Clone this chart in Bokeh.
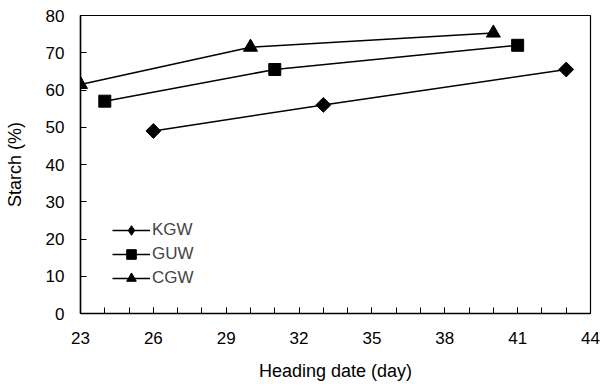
import math
from bokeh.plotting import figure
from bokeh.models import FixedTicker, Legend, LegendItem, Range1d
from bokeh.embed import file_html
from bokeh.resources import INLINE

kgw_x = [26, 33, 43]
kgw_y = [49, 56, 65.5]
guw_x = [24, 31, 41]
guw_y = [57, 65.5, 72]
cgw_x = [23, 30, 40]
cgw_y = [61.5, 71.5, 75.3]

x_ticks = [23, 26, 29, 32, 35, 38, 41, 44]
y_ticks = [0, 10, 20, 30, 40, 50, 60, 70, 80]

FONT = "Liberation Sans"

p = figure(width=604, height=386, output_backend="svg", toolbar_location=None,
           x_range=Range1d(23, 44), y_range=Range1d(0, 80),
           min_border_left=80, min_border_right=14, min_border_top=15, min_border_bottom=73)
p.background_fill_color = "white"
p.border_fill_color = "white"
p.outline_line_color = "black"
p.outline_line_width = 1.2
p.xgrid.visible = False
p.ygrid.visible = False

r1l = p.line(kgw_x, kgw_y, line_color="black", line_width=1.5)
r1d = p.scatter(kgw_x, kgw_y, marker="diamond", size=12, color="black")
r1m = p.scatter(kgw_x, kgw_y, marker="square", size=10.5, angle=math.pi / 4, color="black")
r2l = p.line(guw_x, guw_y, line_color="black", line_width=1.5)
r2m = p.scatter(guw_x, guw_y, marker="square", size=12, color="black")
r3l = p.line(cgw_x, cgw_y, line_color="black", line_width=1.5)
r3m = p.scatter(cgw_x, cgw_y, marker="triangle", size=14, color="black")

xa = p.xaxis[0]
xa.ticker = FixedTicker(ticks=x_ticks, minor_ticks=list(range(23, 45)))
xa.axis_label = "Heading date (day)"
xa.major_tick_in = 6
xa.major_tick_out = 0
xa.minor_tick_in = 6
xa.minor_tick_out = 0
xa.minor_tick_line_color = "black"
xa.major_label_standoff = 18
xa.axis_label_standoff = 14

ya = p.yaxis[0]
ya.ticker = FixedTicker(ticks=y_ticks)
ya.axis_label = "Starch (%)"
ya.major_tick_in = 6
ya.major_tick_out = 0
ya.minor_tick_line_color = None
ya.major_label_standoff = 16
ya.axis_label_standoff = 18

for ax in (xa, ya):
    ax.axis_line_color = "black"
    ax.axis_line_width = 1.5
    ax.major_tick_line_color = "black"
    ax.major_label_text_font = FONT
    ax.major_label_text_font_size = "17px"
    ax.major_label_text_color = "black"
    ax.axis_label_text_font = FONT
    ax.axis_label_text_font_size = "18px"
    ax.axis_label_text_font_style = "normal"
    ax.axis_label_text_color = "black"

legend = Legend(items=[
    LegendItem(label="KGW", renderers=[r1l, r1d]),
    LegendItem(label="GUW", renderers=[r2l, r2m]),
    LegendItem(label="CGW", renderers=[r3l, r3m]),
], location=(22, 13))
legend.background_fill_alpha = 0
legend.border_line_alpha = 0
legend.glyph_width = 38
legend.glyph_height = 24
legend.label_text_font = FONT
legend.label_text_font_size = "17px"
legend.label_standoff = 2
legend.spacing = 0
p.add_layout(legend)

open("out.html", "w").write(file_html(p, INLINE))
